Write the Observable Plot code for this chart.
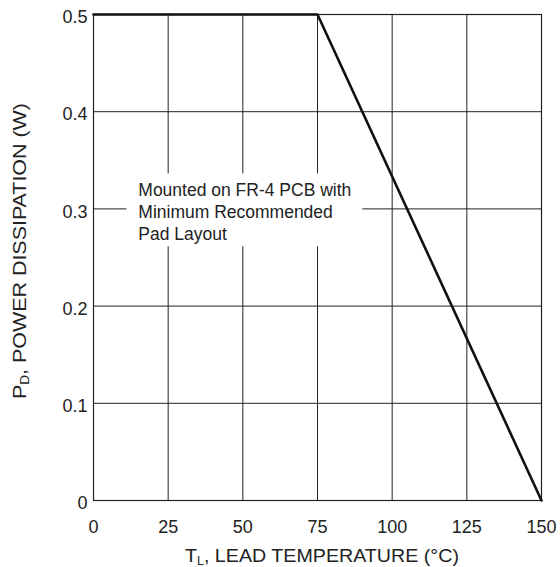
<!DOCTYPE html>
<html>
<head>
<meta charset="utf-8">
<script src="https://cdn.jsdelivr.net/npm/d3@7"></script>
<script src="https://cdn.jsdelivr.net/npm/@observablehq/plot@0.6"></script>
<style>
  html, body { margin: 0; padding: 0; background: #fff; }
  #chart { width: 560px; height: 567px; overflow: hidden; }
</style>
</head>
<body>
<div id="chart"></div>
<script>
// Derating curve: temperature (°C) vs power dissipation (W)
const temperature = [0, 75, 150];
const power = [0.5, 0.5, 0];

const xTicks = [0, 25, 50, 75, 100, 125, 150];
const yTicks = [0, 0.1, 0.2, 0.3, 0.4, 0.5];
const yTickLabels = ["0", "0.1", "0.2", "0.3", "0.4", "0.5"];

// Annotation (in data units)
const noteText = "Mounted on FR-4 PCB with\nMinimum Recommended\nPad Layout";
const noteX = [15];
const noteY = [0.298];
const noteBoxX = [11.2, 90.2];
const noteBoxY = [0.261, 0.336];

const data = temperature.map((t, i) => ({t, p: power[i]}));

const font = "'Liberation Sans', Arial, sans-serif";
const ink = "#222";

const chart = Plot.plot({
  width: 560,
  height: 567,
  marginLeft: 93,
  marginRight: 19,
  marginTop: 14,
  marginBottom: 67,
  style: {fontFamily: font, fontSize: "18px", color: ink, background: "#fff"},
  x: {domain: [0, 150]},
  y: {domain: [0, 0.5]},
  marks: [
    Plot.gridX(xTicks, {stroke: "#222", strokeOpacity: 1, strokeWidth: 1}),
    Plot.gridY(yTicks, {stroke: "#222", strokeOpacity: 1, strokeWidth: 1}),
    Plot.rect([{x1: noteBoxX[0], x2: noteBoxX[1], y1: noteBoxY[0], y2: noteBoxY[1]}],
      {x1: "x1", x2: "x2", y1: "y1", y2: "y2", fill: "white"}),
    Plot.text([{x: noteX[0], y: noteY[0], s: noteText}],
      {x: "x", y: "y", text: "s", textAnchor: "start", lineAnchor: "middle",
       lineHeight: 1.27, fontSize: 17.5, fill: ink}),
    Plot.frame({stroke: "#222", strokeWidth: 1.2}),
    Plot.line(data, {x: "t", y: "p", stroke: "#111", strokeWidth: 2.6}),
    Plot.axisX(xTicks, {tickSize: 0, tickPadding: 20, label: null, fontSize: 18, fill: ink}),
    Plot.axisY(yTicks, {tickSize: 0, tickPadding: 6, label: null, fontSize: 18, fill: ink,
      dy: 3, tickFormat: (d, i) => yTickLabels[i]})
  ]
});

document.getElementById("chart").appendChild(chart);

// Axis titles with subscripts, stretched horizontally like the reference lettering
const svg = d3.select(chart);
function title(main, sub, rest, cx, cy, rotate, targetLen) {
  const g = svg.append("g");
  const t = g.append("text")
    .attr("text-anchor", "middle")
    .attr("font-family", font).attr("font-size", 19).attr("fill", ink);
  t.append("tspan").text(main);
  t.append("tspan").attr("font-size", 12).attr("dy", 3).text(sub);
  t.append("tspan").attr("dy", -3).text(rest);
  const w = t.node().getComputedTextLength();
  const s = targetLen / w;
  g.attr("transform", `translate(${cx},${cy}) rotate(${rotate}) scale(${s},1)`);
}
title("T", "L", ", LEAD TEMPERATURE (°C)", 322, 562, 0, 274);
title("P", "D", ", POWER DISSIPATION (W)", 26, 251, -90, 296);
</script>
</body>
</html>
